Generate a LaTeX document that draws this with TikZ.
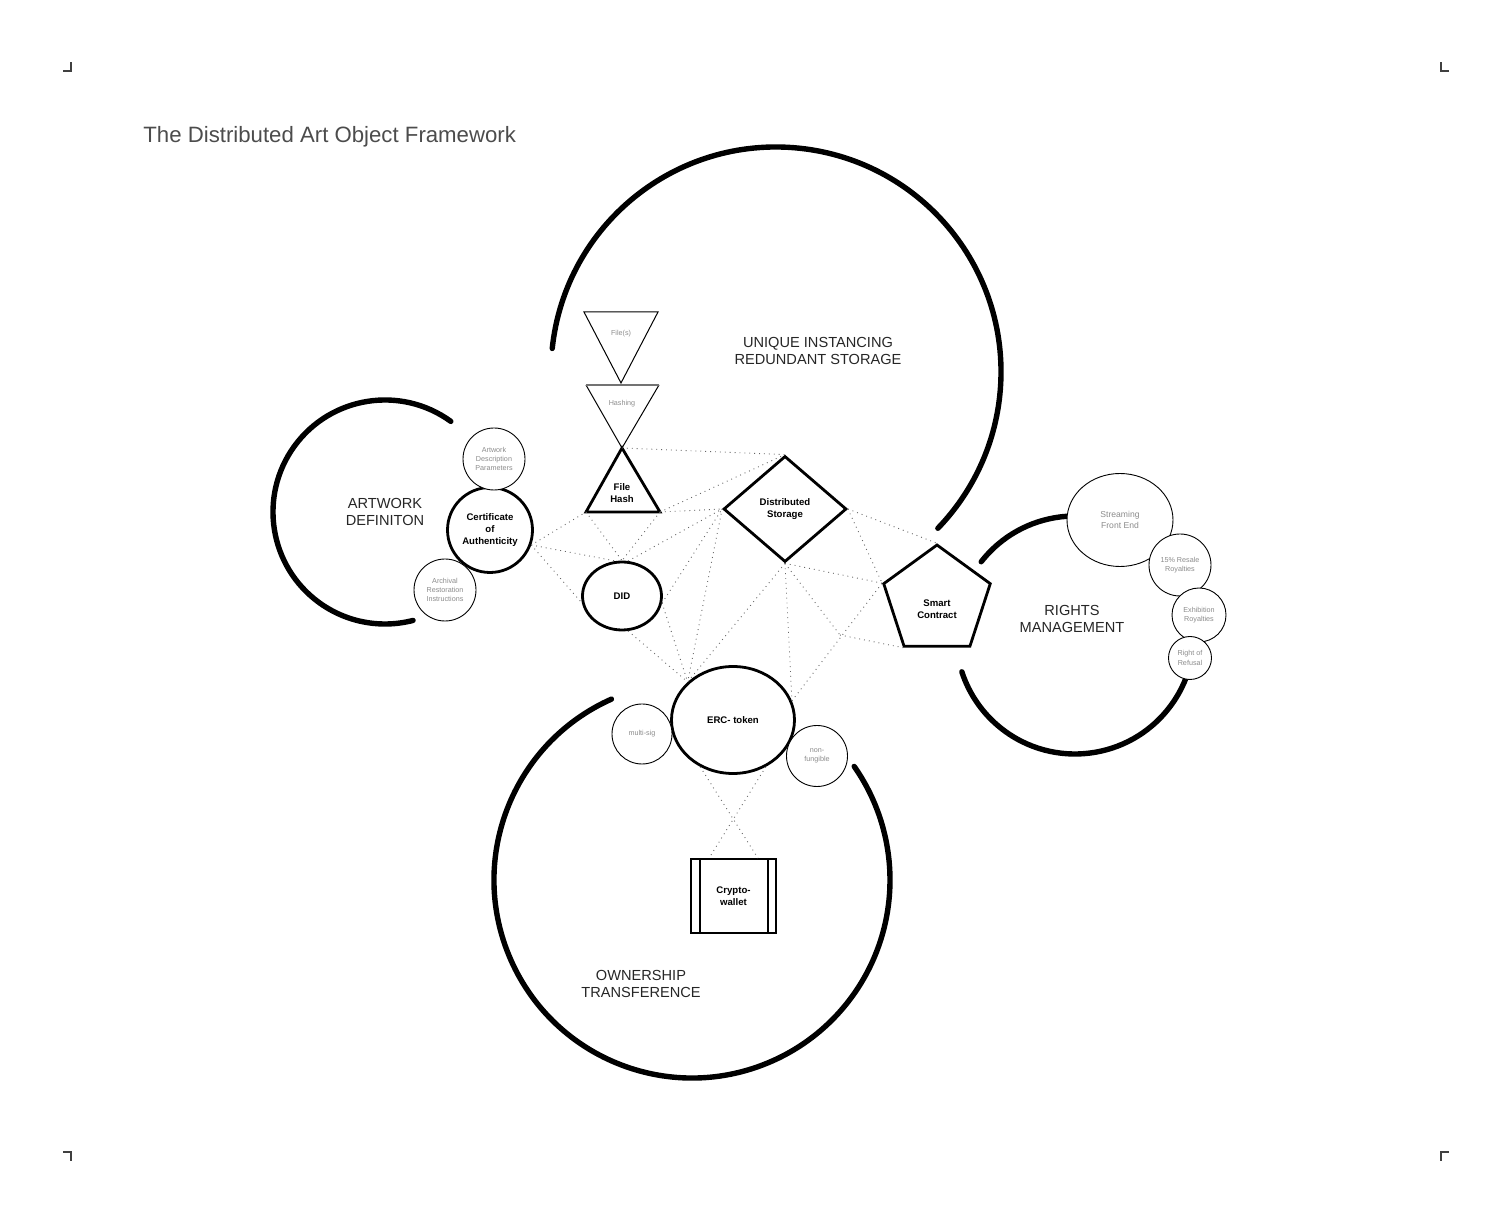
\documentclass[tikz,border=0pt]{standalone}
\usepackage{fontspec}
\setmainfont{Liberation Sans}
\usetikzlibrary{shapes.geometric}

\begin{document}
\begin{tikzpicture}[x=0.5pt,y=0.5pt,yscale=-1,xscale=1,
  cropmark/.style={line width=0.6pt,black!75},
  bigarc/.style={line width=2.7pt,line cap=round},
  keynode/.style={draw,line width=1.4pt,fill=white,inner sep=0pt,align=center,font=\fontsize{4.8}{5.8}\selectfont\bfseries},
  subnode/.style={draw,circle,line width=0.45pt,fill=white,inner sep=0pt,align=center,text=black!45,font=\fontsize{3.6}{4.7}\selectfont},
  graytext/.style={align=center,text=black!45,font=\fontsize{3.6}{4.7}\selectfont},
  areatext/.style={align=center,text=black!85,font=\fontsize{7.3}{8.7}\selectfont},
  link/.style={dotted,line width=0.45pt,black!60}]
\useasboundingbox (0,0) rectangle (1512,1224);

%Shape: Crop marks
\draw[cropmark] (63,71) -- (71,71) -- (71,62) ;
\draw[cropmark] (1449,71) -- (1441,71) -- (1441,62) ;
\draw[cropmark] (63,1152) -- (71,1152) -- (71,1161) ;
\draw[cropmark] (1449,1152) -- (1441,1152) -- (1441,1161) ;

% Text Node
\node[anchor=base west,inner sep=0pt,text=black!70,font=\fontsize{11.1}{13}\selectfont] (title) at (143,143) {The Distributed Art Object Framework};

%Shape: Arc (unique instancing)
\draw[bigarc] (776,372) ++(-174:225) arc[start angle=-174,end angle=44,radius=225] ;
%Shape: Arc (artwork definition)
\draw[bigarc] (385,512) ++(-54:112) arc[start angle=-54,end angle=-284.5,radius=112] ;
%Shape: Arc (rights management)
\draw[bigarc] (1075,635) ++(-142:119) arc[start angle=-142,end angle=162,radius=119] ;
%Shape: Arc (ownership transference)
\draw[bigarc] (692,880) ++(-114:198) arc[start angle=-114,end angle=-395,radius=198] ;

%Shape: Triangle (files)
\coordinate (filesL) at (584,312) ;
\coordinate (filesR) at (658,312) ;
\coordinate (filesTip) at (621,383) ;
\draw[line width=0.5pt] (filesL) -- (filesR) -- (filesTip) -- cycle ;
%Shape: Triangle (hashing)
\coordinate (hashingL) at (586,385) ;
\coordinate (hashingR) at (659,385) ;
\coordinate (hashApex) at (622,448) ;
\draw[line width=0.5pt] (hashingR) -- (hashApex) -- (hashingL) ;
\draw[line width=0.9pt,black!55] (hashingL) -- (hashingR) ;
%Shape: Triangle (file hash)
\coordinate (hashL) at (586,512) ;
\coordinate (hashR) at (660,512) ;
\draw[line width=1.4pt,line join=miter,fill=white] (hashApex) -- (hashR) -- (hashL) -- cycle ;

% Text Node
\node[graytext] (filestext) at (621,334) {File(s)};
\node[graytext] (hashingtext) at (622,404) {Hashing};
\node[align=center,font=\fontsize{4.8}{5.8}\selectfont\bfseries] (hashtext) at (622,493) {File\\Hash};

%Shape: Diamond
\node[keynode,diamond,minimum width=61.5pt,minimum height=53pt] (store) at (785,509) {Distributed\\Storage};
%Shape: Pentagon
\node[keynode,regular polygon,regular polygon sides=5,minimum size=56pt] (contract) at (937,601) {};
\node[align=center,font=\fontsize{4.8}{5.8}\selectfont\bfseries] (contracttext) at (937,609) {Smart\\Contract};
%Shape: Circle
\node[keynode,circle,minimum size=42.5pt] (cert) at (490,530) {Certificate\\of\\Authenticity};
\node[subnode,minimum size=31pt] (params) at (494,459) {Artwork\\Description\\Parameters};
\node[subnode,minimum size=31pt] (archive) at (445,590) {Archival\\Restoration\\Instructions};
%Shape: Ellipse
\node[keynode,ellipse,minimum width=39.5pt,minimum height=34pt] (did) at (622,596) {DID};
\node[keynode,ellipse,minimum width=61.5pt,minimum height=53.5pt] (token) at (733,720) {ERC- token};
\node[subnode,minimum size=30pt] (multisig) at (642,734) {multi-sig};
\node[subnode,minimum size=30.5pt] (fungible) at (817,756) {non-\\fungible};
%Shape: Rectangle (wallet)
\node[draw,line width=0.9pt,fill=white,minimum width=42.5pt,minimum height=37pt,inner sep=0pt,align=center,font=\fontsize{4.8}{5.8}\selectfont\bfseries] (wallet) at (733.5,896) {Crypto-\\wallet};
\draw[line width=0.9pt] ([xshift=5pt]wallet.north west) -- ([xshift=5pt]wallet.south west) ;
\draw[line width=0.9pt] ([xshift=-4.5pt]wallet.north east) -- ([xshift=-4.5pt]wallet.south east) ;
%Shape: Circles (rights)
\node[subnode,ellipse,minimum width=53pt,minimum height=46.5pt,font=\fontsize{4.3}{5.5}\selectfont] (stream) at (1120,520) {Streaming\\Front End};
\node[subnode,minimum size=31pt] (resale) at (1180,565) {15\% Resale\\Royalties};
\node[subnode,minimum size=27pt] (exhibit) at (1199,615) {Exhibition\\Royalties};
\node[subnode,minimum size=21.5pt] (refusal) at (1190,658) {Right of\\Refusal};

% Text Node
\node[areatext] (uniquetext) at (818,351) {UNIQUE INSTANCING\\REDUNDANT STORAGE};
\node[areatext] (artworktext) at (385,512) {ARTWORK\\DEFINITON};
\node[areatext] (rightstext) at (1072,619) {RIGHTS\\MANAGEMENT};
\node[areatext] (ownertext) at (641,984) {OWNERSHIP\\TRANSFERENCE};

%Straight Lines (dotted links)
\coordinate (meet) at (840,635) ;
\draw[link] (hashApex) -- (store.north) ;
\draw[link] (hashR) -- (store.north) ;
\draw[link] (hashR) -- (store.west) ;
\draw[link] (cert.-20) -- (hashL) ;
\draw[link] (hashL) -- (did.north) ;
\draw[link] (hashR) -- (did.north) ;
\draw[link] (cert.-20) -- (did.100) ;
\draw[link] (cert.-20) -- (did.190) ;
\draw[link] (did.80) -- (store.west) ;
\draw[link] (did.-10) -- (store.west) ;
\draw[link] (did.-10) -- (token.140) ;
\draw[link] (did.-80) -- (token.140) ;
\draw[link] (store.west) -- (token.140) ;
\draw[link] (store.south) -- (token.140) ;
\draw[link] (store.south) -- (token.18) ;
\draw[link] (token.18) -- (contract.corner 2) ;
\draw[link] (store.south) -- (contract.corner 2) ;
\draw[link] (store.south) -- (meet) ;
\draw[link] (meet) -- (contract.corner 3) ;
\draw[link] (store.east) -- (contract.corner 1) ;
\draw[link] (store.east) -- (contract.corner 2) ;
\draw[link] (token.235) -- ([xshift=-9.5pt]wallet.north east) ;
\draw[link] (token.305) -- ([xshift=9.5pt]wallet.north west) ;

\end{tikzpicture}
\end{document}
